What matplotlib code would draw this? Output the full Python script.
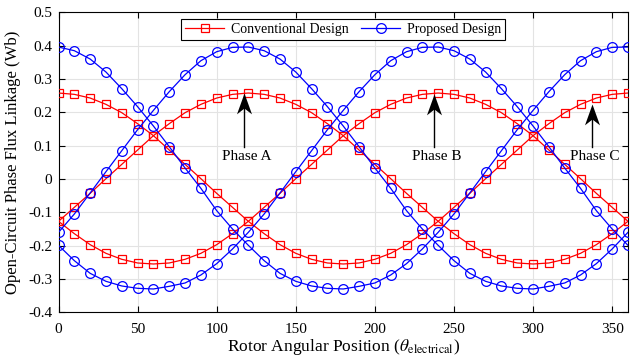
import matplotlib
matplotlib.use("Agg")
import matplotlib.pyplot as plt
from matplotlib.path import Path
import numpy as np

theta = list(range(0, 361, 10))

conv_A = [-0.127, -0.085, -0.043, 0.001, 0.044, 0.087, 0.130, 0.166, 0.199, 0.224,
          0.243, 0.254, 0.258, 0.254, 0.243, 0.224, 0.199, 0.166, 0.130, 0.087,
          0.044, 0.001, -0.043, -0.085, -0.127, -0.164, -0.197, -0.223, -0.241, -0.252,
          -0.255, -0.252, -0.241, -0.223, -0.197, -0.164, -0.127]
conv_B = [-0.127, -0.164, -0.197, -0.223, -0.241, -0.252, -0.255, -0.252, -0.241, -0.223,
          -0.197, -0.164, -0.127, -0.085, -0.043, 0.001, 0.044, 0.087, 0.130, 0.166,
          0.199, 0.224, 0.243, 0.254, 0.258, 0.254, 0.243, 0.224, 0.199, 0.166,
          0.130, 0.087, 0.044, 0.001, -0.043, -0.085, -0.127]
conv_C = [0.258, 0.254, 0.243, 0.224, 0.199, 0.166, 0.130, 0.087, 0.044, 0.001,
          -0.043, -0.085, -0.127, -0.164, -0.197, -0.223, -0.241, -0.252, -0.255, -0.252,
          -0.241, -0.223, -0.197, -0.164, -0.127, -0.085, -0.043, 0.001, 0.044, 0.087,
          0.130, 0.166, 0.199, 0.224, 0.243, 0.254, 0.258]

prop_A = [-0.160, -0.105, -0.042, 0.022, 0.085, 0.148, 0.206, 0.262, 0.313, 0.355,
          0.382, 0.395, 0.396, 0.385, 0.360, 0.321, 0.271, 0.217, 0.159, 0.097,
          0.033, -0.028, -0.095, -0.150, -0.199, -0.245, -0.283, -0.307, -0.321, -0.328,
          -0.330, -0.322, -0.312, -0.288, -0.254, -0.210, -0.160]
prop_B = [-0.199, -0.245, -0.283, -0.307, -0.321, -0.328, -0.330, -0.322, -0.312, -0.288,
          -0.254, -0.210, -0.160, -0.105, -0.042, 0.022, 0.085, 0.148, 0.206, 0.262,
          0.313, 0.355, 0.382, 0.395, 0.396, 0.385, 0.360, 0.321, 0.271, 0.217,
          0.159, 0.097, 0.033, -0.028, -0.095, -0.150, -0.199]
prop_C = [0.396, 0.385, 0.360, 0.321, 0.271, 0.217, 0.159, 0.097, 0.033, -0.028,
          -0.095, -0.150, -0.199, -0.245, -0.283, -0.307, -0.321, -0.328, -0.330, -0.322,
          -0.312, -0.288, -0.254, -0.210, -0.160, -0.105, -0.042, 0.022, 0.085, 0.148,
          0.206, 0.262, 0.313, 0.355, 0.382, 0.395, 0.396]

series_labels = ["Conventional Design", "Proposed Design"]
phase_labels = ["Phase A", "Phase B", "Phase C"]
phase_arrow_x = [117.5, 237.5, 337.5]
phase_arrow_tip = [0.257, 0.256, 0.226]
phase_arrow_tail = 0.097
phase_text_x = [119, 239, 339]
phase_text_y = 0.068

plt.rcParams['font.family'] = ['Liberation Serif', 'DejaVu Serif']
plt.rcParams['mathtext.fontset'] = 'stix'

fig = plt.figure(figsize=(6.34, 3.64), dpi=100)
ax = fig.add_axes([0.0923, 0.142, 0.8982, 0.824])

red = '#ff0000'
blue = '#0000ff'
for i, c in enumerate([conv_A, conv_B, conv_C]):
    ax.plot(theta, c, color=red, lw=0.9, marker='s', ms=5.5, mfc='none', mec=red,
            mew=0.9, label=series_labels[0] if i == 0 else None, zorder=3)
for i, p in enumerate([prop_A, prop_B, prop_C]):
    ax.plot(theta, p, color=blue, lw=0.9, marker='o', ms=7, mfc='none', mec=blue,
            mew=0.9, label=series_labels[1] if i == 0 else None, zorder=3)

# concave (MATLAB-like) arrow head marker with its tip at the marker origin
head = Path([(0, 0), (-0.36, -1.0), (0, -0.72), (0.36, -1.0), (0, 0)],
            [Path.MOVETO, Path.LINETO, Path.LINETO, Path.LINETO, Path.CLOSEPOLY])

for lab, x, tip, tx in zip(phase_labels, phase_arrow_x, phase_arrow_tip, phase_text_x):
    ax.plot([x, x], [phase_arrow_tail, tip - 0.03], color='k', lw=1.0, zorder=5)
    ax.plot([x], [tip], marker=head, ms=30, color='k', mew=0, zorder=6)
    ax.text(tx, phase_text_y, lab, ha='center', va='center', fontsize=11, zorder=5)

ax.set_xlim(0, 360)
ax.set_ylim(-0.4, 0.5)
ax.set_xticks(np.arange(0, 351, 50))
ax.set_yticks(np.round(np.arange(-0.4, 0.51, 0.1), 1))
ax.set_yticklabels(['-0.4', '-0.3', '-0.2', '-0.1', '0', '0.1', '0.2', '0.3', '0.4', '0.5'])
ax.tick_params(direction='in', top=True, right=True, labelsize=11, length=4, width=0.8)
ax.tick_params(axis='x', pad=7.5)
ax.tick_params(axis='y', pad=4.5)
ax.grid(True, color='#e3e3e3', lw=0.8)
ax.set_axisbelow(True)
for s in ax.spines.values():
    s.set_linewidth(0.8)

ax.set_xlabel(r'Rotor Angular Position ($\theta_{\mathrm{electrical}}$)', fontsize=12.5, labelpad=1)
ax.set_ylabel('Open-Circuit Phase Flux Linkage (Wb)', fontsize=12, labelpad=5)

leg = ax.legend(loc='upper center', bbox_to_anchor=(0.5, 0.978), ncol=2, fontsize=10,
                frameon=True, fancybox=False, edgecolor='k', framealpha=1,
                handlelength=2.8, columnspacing=0.9, borderpad=0.3, handletextpad=0.5,
                borderaxespad=0)
leg.get_frame().set_linewidth(0.8)

fig.savefig('out.png', dpi=100)
